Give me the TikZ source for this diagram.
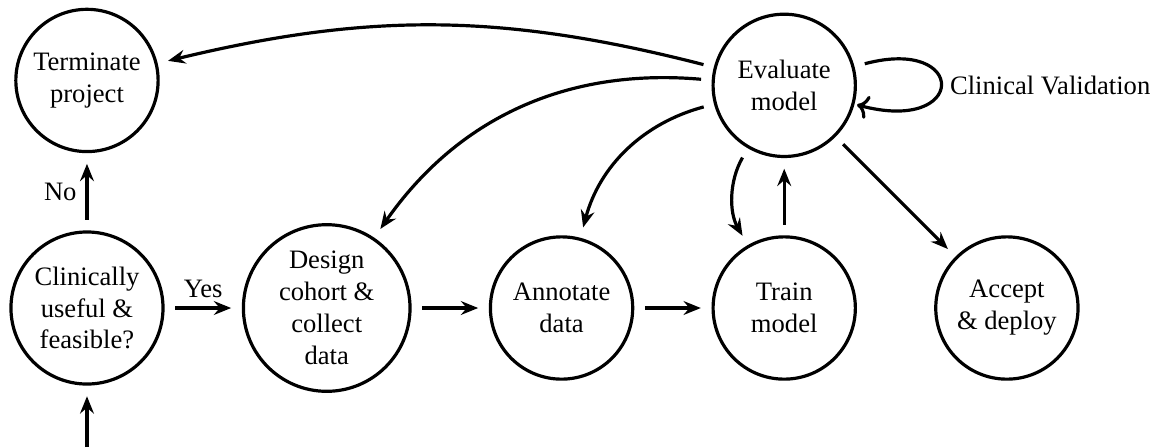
\documentclass[tikz,border=0pt]{standalone}
\usepackage{fontspec}
\setmainfont{Liberation Serif}
\usetikzlibrary{positioning, arrows.meta}
\tikzset{
  stage/.style={circle, draw, line width=1.2pt, minimum size=1.88cm, align=center, inner sep=2.5pt},
  flow/.style={-{Stealth[length=6.5pt, width=5.2pt, inset=2.2pt]}, line width=1.2pt, shorten >=4pt, shorten <=4pt},
}

\begin{document}
\begin{tikzpicture}[node distance=1.02cm]
			\useasboundingbox (-32.7pt,-52.3pt) rectangle (400.4pt,115.8pt);
			% Nodes for the main row
			\node (clin) [stage] at (0,0) {Clinically\\useful \&\\feasible?};
			\node (design) [stage, right=of clin] {Design\\cohort \&\\collect\\data};
			\node (annot) [stage, right=of design] {Annotate\\data};
			\node (train) [stage, right=of annot] {Train\\model};
			\node (accept) [stage, right=of train] {Accept\\\& deploy};
			% Nodes for the top row
			\node (term) [stage, above=of clin] {Terminate\\project};
			\node (eval) [stage, above=of train] {Evaluate\\model};
			\coordinate (entry) at (0,-52.3pt);
			% Arrows for the main row
			\draw[flow, shorten <=0pt] (entry) -- (clin);
			\draw[flow] (clin) -- node[above] {Yes} (design);
			\draw[flow] (design) -- (annot);
			\draw[flow] (annot) -- (train);
			\draw[flow] (clin) -- node[left] {No} (term);
			\draw[flow] (train) -- (eval);
			% Arrows out of Evaluate
			\draw[flow] (eval) to[bend right=14] (term);
			\draw[flow] (eval) to[bend right=30] (design);
			\draw[flow] (eval) to[bend right=30] (annot);
			\draw[flow] (eval) to[bend right=30] (train);
			\draw[flow] (eval) -- (accept);
			\path (eval) edge[flow, loop right] node {Clinical Validation} ();
		\end{tikzpicture}
\end{document}
